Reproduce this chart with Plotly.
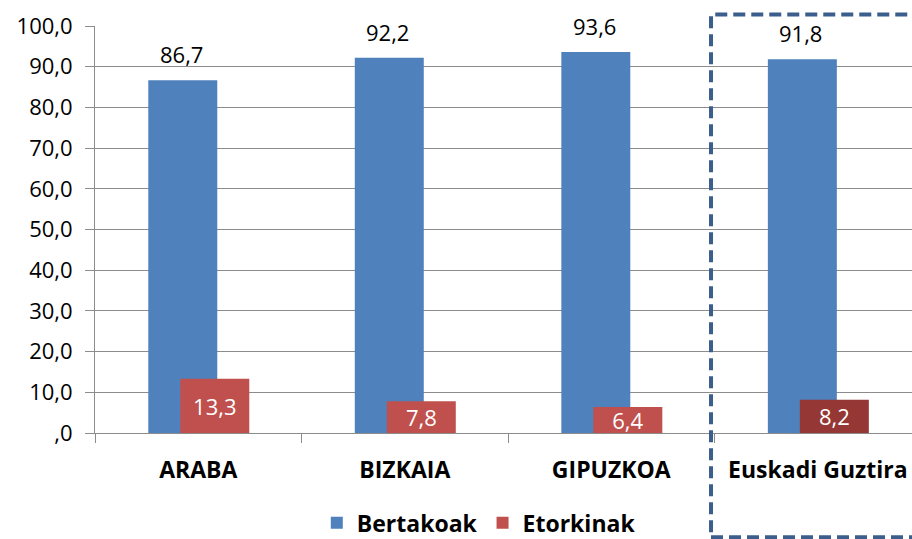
import plotly.graph_objects as go

categories = ["ARABA", "BIZKAIA", "GIPUZKOA", "Euskadi Guztira"]
bertakoak = [86.7, 92.2, 93.6, 91.8]
etorkinak = [13.3, 7.8, 6.4, 8.2]
tick_vals = [0, 10, 20, 30, 40, 50, 60, 70, 80, 90, 100]
tick_text = [",0", "10,0", "20,0", "30,0", "40,0", "50,0", "60,0", "70,0", "80,0", "90,0", "100,0"]

BLUE = "#4F81BD"
RED = "#C0504D"
DARK_RED = "#953735"
GRID = "#8C8C8C"
FONT = "Open Sans, Liberation Sans, sans-serif"
BAR_W = 0.334


def fmt(v):
    return f"{v:.1f}".replace(".", ",")


fig = go.Figure()
fig.add_trace(go.Bar(
    x=categories, y=bertakoak, name="<b>Bertakoak</b>",
    marker=dict(color=BLUE, line=dict(width=0)),
    width=BAR_W, offset=-0.242,
))
fig.add_trace(go.Bar(
    x=categories, y=etorkinak, name="<b>Etorkinak</b>",
    marker=dict(color=[RED, RED, RED, DARK_RED], line=dict(width=0)),
    width=BAR_W, offset=-0.087,
    text=[fmt(v) for v in etorkinak], textposition="inside",
    insidetextanchor="middle", constraintext="none",
    textfont=dict(size=22, color="white", family=FONT),
))

# value labels above the blue bars, set well clear of the bar top like Excel does
for c, v in zip(categories, bertakoak):
    fig.add_annotation(x=c, y=v, text=fmt(v), showarrow=False,
                       xshift=-17, yshift=26, yanchor="middle",
                       font=dict(size=22, color="black", family=FONT))

# dashed highlight box round the Euskadi total
fig.add_shape(type="rect", xref="paper", yref="paper",
              x0=0.754, x1=1.05, y0=-0.256, y1=1.028,
              line=dict(color="#3B5E8C", width=4, dash="12px,6px"))

fig.update_layout(
    barmode="overlay",
    width=912, height=539,
    margin=dict(l=95, r=0, t=26, b=106),
    plot_bgcolor="white", paper_bgcolor="white",
    font=dict(family=FONT, size=22, color="black"),
    showlegend=True,
    legend=dict(orientation="h", xref="container", yref="container",
                x=0.525, xanchor="center", y=0.03, yanchor="middle",
                font=dict(size=23, family=FONT), traceorder="normal"),
    xaxis=dict(range=[-0.5, 3.456], showline=True, linecolor=GRID,
               ticks="outside", tickson="boundaries", ticklen=9, tickcolor=GRID,
               tickvals=categories, ticktext=[f"<b>{c}</b>" for c in categories],
               ticklabelstandoff=16, automargin=False,
               tickfont=dict(size=23, family=FONT), showgrid=False),
    yaxis=dict(range=[0, 100], tickvals=tick_vals, ticktext=tick_text,
               showline=True, linecolor=GRID, ticks="outside", ticklen=9,
               tickcolor=GRID, showgrid=True, gridcolor=GRID, gridwidth=1,
               zeroline=False, ticklabelstandoff=8, automargin=False,
               tickfont=dict(size=22, family=FONT)),
)

fig.write_html("out.html", config={"displayModeBar": False},
               post_script="document.body.style.margin='0';")
